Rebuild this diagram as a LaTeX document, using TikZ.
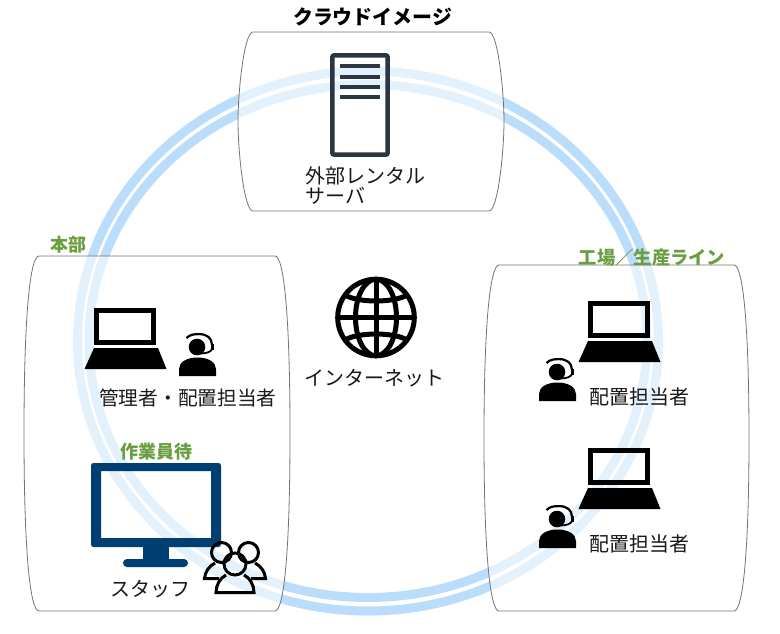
\documentclass[tikz,border=0pt]{standalone}
\usepackage{fontspec}
\setmainfont{Noto Sans CJK JP}
\usetikzlibrary{positioning}
\definecolor{ringblue}{HTML}{B9DDFA}
\definecolor{labelgreen}{HTML}{6A9E3F}
\definecolor{monitorblue}{HTML}{003F72}
\definecolor{serverdark}{HTML}{2A3644}

% left, right, top, bottom
\newcommand{\panelbox}[4]{
    \path[panel] (#1+15,#3) -- (#2-15,#3) .. controls (#2-6,#3) and (#2,#3+60) .. (#2,{(#3+#4)/2})
        .. controls (#2,#4-60) and (#2-6,#4) .. (#2-15,#4) -- (#1+15,#4)
        .. controls (#1+6,#4) and (#1,#4-60) .. (#1,{(#3+#4)/2})
        .. controls (#1,#3+60) and (#1+6,#3) .. cycle;
}

\tikzset{
    ring/.style = {draw=ringblue, line width=9pt},
    panel/.style = {draw=black!55, line width=0.8pt, fill=white, fill opacity=0.6},
    caption/.style = {font=\fontsize{20pt}{23pt}\selectfont, text=black!90, inner sep=0pt, anchor=west, align=left},
    head/.style = {font=\bfseries\fontsize{18pt}{21pt}\selectfont, text=labelgreen, inner sep=0pt},
    pics/laptop/.style = {code = {
        \draw[line width=4.5pt] (2.3,2.3) rectangle (59.7,34.7);
        \fill (0,40) -- (64,40) -- (72.5,61) -- (-9.5,61) -- cycle;
    }},
    pics/agent/.style = {code = {
        \fill (18,14) circle (8.3);
        \draw[line width=2.2pt] (7.5,5) .. controls (11,1.5) and (15,1.1) .. (20,1.1) .. controls (28,1.1) and (33,5) .. (33,12);
        \draw[line width=1.8pt] (33,16) .. controls (32,19) and (27,20.5) .. (21,20.5);
        \fill (31.5,10.5) rectangle (35,16.5);
        \fill (0,43) -- (0,36) .. controls (0,29) and (8,24.5) .. (18.5,24.5) .. controls (29,24.5) and (37,29) .. (37,36) -- (37,43) -- cycle;
    }}
}

\begin{document}
\begin{tikzpicture}[x=1pt, y=-1pt]
\useasboundingbox (0,0) rectangle (780,633);

% ring behind the panels
\draw[ring] (368,341) ellipse [x radius=290.5, y radius=270];
\draw[ring] (368,341) ellipse [x radius=279, y radius=256.5];

% panels
\panelbox{238}{504}{32}{211}
\panelbox{24}{290}{256}{611}
\panelbox{484}{749}{265}{611}

% server
\draw[serverdark, line width=4.5pt, rounded corners=2pt] (332.3,55.3) rectangle (387.7,154.7);
\foreach \y in {64,74.5,85,95} {
    \fill[serverdark] (340,\y) rectangle (380,\y+4.2);
}

% laptops and agents
\pic at (94,308) {laptop};
\pic at (588,301) {laptop};
\pic at (588,448) {laptop};
\pic at (179,333) {agent};
\pic at (539,358) {agent};
\pic at (539,505) {agent};

% monitor
\fill[monitorblue, even odd rule, rounded corners=2.5pt] (91,463) rectangle (221,547) [sharp corners] (101,471) rectangle (211,538);
\fill[monitorblue] (143,546) rectangle (169,560);
\fill[monitorblue, rounded corners=4pt] (123,559) rectangle (188,567);

% staff group
\begin{scope}[line width=3pt]
\draw (221.5,552.5) circle (10);
\draw (248.5,552.5) circle (10);
\draw (235,564) circle (11);
\draw (215,563) .. controls (209,566) and (205,572) .. (204.5,578.5) -- (219,578.5);
\draw (255,563) .. controls (261,566) and (265,572) .. (265.5,578.5) -- (251,578.5);
\draw (226,575) .. controls (220,578) and (216,585) .. (216,592.5) -- (254,592.5) .. controls (254,585) and (250,578) .. (244,575);
\end{scope}

% globe
\begin{scope}[line width=5pt]
\draw (376,317.5) circle (38.3);
\draw (376,279) -- (376,356);
\draw (337.5,317.5) -- (414.5,317.5);
\draw (376,317.5) ellipse [x radius=20.5, y radius=38.3];
\draw (345,295) .. controls (358,303) and (394,303) .. (407,295);
\draw (345,340) .. controls (358,332) and (394,332) .. (407,340);
\end{scope}

% labels
\node[font=\bfseries\fontsize{19.9pt}{23pt}\selectfont, inner sep=0pt] (cloudtitle) at (372.5,17) {クラウドイメージ};
\node[caption] (rental) at (305,176) {外部レンタル};
\node[caption] (rentalb) at (305,196) {サーバ};
\node[head] (honbu) at (68.5,245) {本部};
\node[head, font=\bfseries\fontsize{18.3pt}{21pt}\selectfont] (koujou) at (652,258) {工場／生産ライン};
\node[head] (sagyou) at (156.5,452) {作業員待};
\node[caption, font=\fontsize{19.7pt}{23pt}\selectfont] (kanri) at (99,398) {管理者・配置担当者};
\node[caption] (inet) at (304,378) {インターネット};
\node[caption] (tantoa) at (589,397) {配置担当者};
\node[caption] (tantob) at (589,544) {配置担当者};
\node[caption] (staff) at (110,589) {スタッフ};
\end{tikzpicture}
\end{document}
